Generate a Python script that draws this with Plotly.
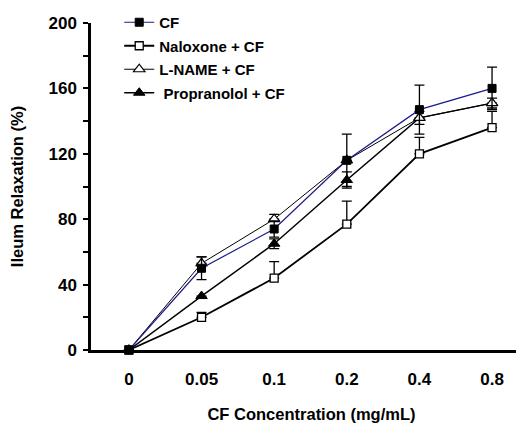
import plotly.graph_objects as go

categories = ["0", "0.05", "0.1", "0.2", "0.4", "0.8"]

cf = [0, 50, 74, 116, 147, 160]
cf_err = [0, 7, 5, 16, 15, 13]

naloxone = [0, 20, 44, 77, 120, 136]
naloxone_err_up = [0, 3, 10, 14, 10, 10]

lname = [0, 53, 80, 116, 142, 151]
lname_err_up = [0, 4, 3, 0, 0, 0]

propranolol = [0, 33, 65, 104, 142, 151]
propranolol_err = [0, 0, 3, 5, 4, 3]

FONT = "Arial, Liberation Sans, sans-serif"

fig = go.Figure()

fig.add_trace(go.Scatter(
    x=categories, y=naloxone, name="Naloxone + CF", legendrank=2, legendgroup="b",
    mode="lines+markers",
    line=dict(color="black", width=1.8),
    marker=dict(symbol="square", size=8, color="white", line=dict(color="black", width=1.3)),
    error_y=dict(type="data", array=naloxone_err_up, arrayminus=[0]*6, symmetric=False,
                 color="black", thickness=1.3, width=5),
    cliponaxis=False,
))
fig.add_trace(go.Scatter(
    x=categories, y=propranolol, name=" Propranolol + CF", legendrank=4, legendgroup="d",
    mode="lines+markers",
    line=dict(color="black", width=1.5),
    marker=dict(symbol="triangle-up", size=10, color="black", line=dict(color="black", width=1)),
    error_y=dict(type="data", array=propranolol_err, color="black", thickness=1.3, width=5),
    cliponaxis=False,
))
fig.add_trace(go.Scatter(
    x=categories, y=lname, name="L-NAME + CF", legendrank=3, legendgroup="c",
    mode="lines+markers",
    line=dict(color="black", width=1),
    marker=dict(symbol="triangle-up", size=10, color="white", line=dict(color="black", width=1.2)),
    error_y=dict(type="data", array=lname_err_up, arrayminus=[0]*6, symmetric=False,
                 color="black", thickness=1.3, width=5),
    cliponaxis=False,
))
fig.add_trace(go.Scatter(
    x=categories, y=cf, name="CF", legendrank=1, legendgroup="a",
    mode="lines+markers",
    line=dict(color="#1a1a8c", width=1.2),
    marker=dict(symbol="square", size=8, color="black", line=dict(color="black", width=1)),
    error_y=dict(type="data", array=cf_err, color="black", thickness=1.3, width=5),
    cliponaxis=False,
))

fig.update_layout(
    width=524, height=423,
    margin=dict(l=83, r=0, t=15, b=81, autoexpand=False),
    paper_bgcolor="white", plot_bgcolor="white",
    font=dict(family=FONT, color="black", size=12),
    showlegend=True,
    legend=dict(
        x=0.064, y=1.052, xanchor="left", yanchor="top",
        font=dict(family=FONT, size=15, color="black", weight="bold"),
        bgcolor="rgba(0,0,0,0)", tracegroupgap=1, itemwidth=30,
    ),
    xaxis=dict(
        type="category", range=[-0.522, 5.55],
        showline=True, linecolor="black", linewidth=2.5,
        ticks="outside", ticklen=12, tickcolor="rgba(0,0,0,0)",
        showgrid=False, zeroline=False,
        tickfont=dict(family=FONT, size=17, color="black", weight="bold"),
        title=dict(text="CF Concentration (mg/mL)", standoff=21,
                   font=dict(family=FONT, size=16.5, color="black", weight="bold")),
    ),
    yaxis=dict(
        range=[0, 200], tickvals=[0, 40, 80, 120, 160, 200],
        showline=True, linecolor="black", linewidth=2.5,
        ticks="outside", ticklen=5, tickwidth=1.5, tickcolor="black",
        ticklabelstandoff=3,
        minor=dict(ticks="outside", ticklen=5, tickwidth=1.5, tickcolor="black", dtick=20, showgrid=False),
        showgrid=False, zeroline=False,
        tickfont=dict(family=FONT, size=17, color="black", weight="bold"),
        title=dict(text="Ileum Relaxation (%)", standoff=34,
                   font=dict(family=FONT, size=16.5, color="black", weight="bold")),
    ),
)

fig.write_html("out.html")
